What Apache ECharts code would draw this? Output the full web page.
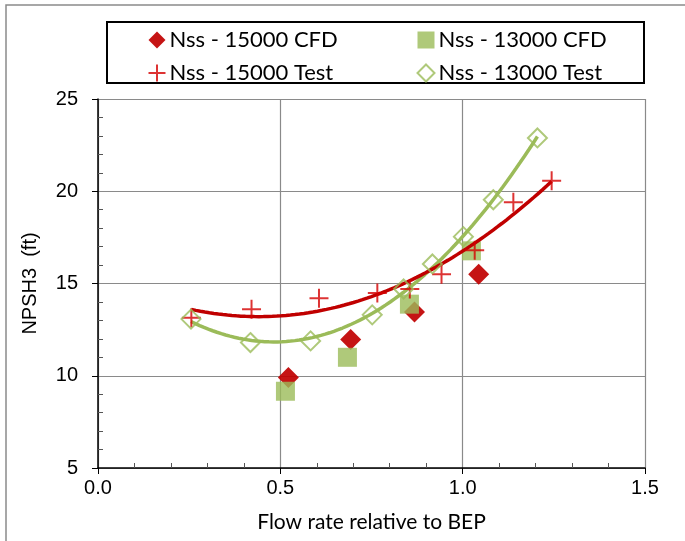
<!DOCTYPE html>
<html><head><meta charset="utf-8">
<script src="https://cdn.jsdelivr.net/npm/echarts@6/dist/echarts.min.js"></script>
<style>html,body{margin:0;padding:0;background:#fff}#c{width:685px;height:541px}</style>
</head><body><div id="c"></div>
<script>
// ---- data ----
const seriesNames = ['Nss - 15000 CFD', 'Nss - 13000 CFD', 'Nss - 15000 Test', 'Nss - 13000 Test'];
const cfd15X = [0.522, 0.693, 0.868, 1.044];
const cfd15Y = [9.9, 11.97, 13.45, 15.5];
const cfd13X = [0.514, 0.684, 0.854, 1.024];
const cfd13Y = [9.16, 11.0, 13.88, 16.77];
const test15X = [0.256, 0.421, 0.606, 0.766, 0.855, 0.942, 1.033, 1.139, 1.244];
const test15Y = [13.15, 13.6, 14.2, 14.48, 14.7, 15.5, 16.8, 19.4, 20.57];
const test13X = [0.255, 0.418, 0.583, 0.752, 0.838, 0.917, 1.002, 1.084, 1.205];
const test13Y = [13.07, 11.8, 11.89, 13.3, 14.7, 16.06, 17.54, 19.54, 22.89];
const xTickLabels = ['0.0', '0.5', '1.0', '1.5'];
const yTickLabels = ['5', '10', '15', '20', '25'];
const xTitle = 'Flow rate relative to BEP';
const yTitle = 'NPSH3  (ft)';

// polynomial least-squares trendline (as Excel's polynomial trendline)
function polyfit(xs, ys, order) {
  const n = order + 1;
  const A = Array.from({length: n}, () => new Array(n + 1).fill(0));
  for (let k = 0; k < xs.length; k++) {
    for (let i = 0; i < n; i++) {
      for (let j = 0; j < n; j++) A[i][j] += Math.pow(xs[k], i + j);
      A[i][n] += ys[k] * Math.pow(xs[k], i);
    }
  }
  for (let i = 0; i < n; i++) {
    let p = i;
    for (let r = i + 1; r < n; r++) if (Math.abs(A[r][i]) > Math.abs(A[p][i])) p = r;
    [A[i], A[p]] = [A[p], A[i]];
    for (let r = 0; r < n; r++) {
      if (r === i) continue;
      const f = A[r][i] / A[i][i];
      for (let c = i; c <= n; c++) A[r][c] -= f * A[i][c];
    }
  }
  return A.map((row, i) => row[n] / row[i]);
}
function trend(xs, ys, order) {
  const c = polyfit(xs, ys, order);
  const x0 = Math.min(...xs), x1 = Math.max(...xs);
  const out = [];
  for (let i = 0; i <= 80; i++) {
    const x = x0 + (x1 - x0) * i / 80;
    let y = 0;
    for (let k = 0; k < c.length; k++) y += c[k] * Math.pow(x, k);
    out.push([x, y]);
  }
  return out;
}
const zip = (a, b) => a.map((v, i) => [v, b[i]]);

const RED = '#C00000', PLUS_RED = '#D40000', GREEN = '#9BBB59';
const plusPath = 'path://M0,10L20,10M10,0L10,20';

const chart = echarts.init(document.getElementById('c'), null, {renderer: 'canvas'});
chart.setOption({
  animation: false,
  backgroundColor: '#fff',
  grid: {left: 98, right: 40, top: 99, bottom: 73, containLabel: false},
  graphic: [
    {type: 'rect', shape: {x: 6, y: 5, width: 690, height: 550}, style: {fill: 'none', stroke: '#8a8a8a', lineWidth: 1.5}, silent: true},
    {type: 'rect', shape: {x: 107, y: 22, width: 537, height: 61}, style: {fill: '#fff', stroke: '#000', lineWidth: 2}, silent: true, z: 0}
  ],
  legend: [
    {data: [seriesNames[0], seriesNames[2]], orient: 'vertical', left: 141, top: 24, itemWidth: 17, itemHeight: 17, itemGap: 11,
     textStyle: {fontFamily: 'Lato', fontSize: 22, color: '#000', padding: [0, 0, 0, -1]}, z: 5},
    {data: [seriesNames[1], seriesNames[3]], orient: 'vertical', left: 410, top: 24, itemWidth: 17, itemHeight: 17, itemGap: 11,
     textStyle: {fontFamily: 'Lato', fontSize: 22, color: '#000', padding: [0, 0, 0, -1]}, z: 5}
  ],
  xAxis: {
    type: 'value', min: 0, max: 1.5, interval: 0.5,
    name: xTitle, nameLocation: 'middle', nameGap: 44,
    nameTextStyle: {fontFamily: 'Lato', fontSize: 21, color: '#000'},
    axisLine: {show: true, lineStyle: {color: '#000', width: 1.5}},
    axisTick: {show: true, inside: false, length: 6, lineStyle: {color: '#000'}},
    minorTick: {show: true, splitNumber: 5, length: -5, lineStyle: {color: '#555'}},
    axisLabel: {fontFamily: 'Liberation Sans', fontSize: 20, color: '#000', margin: 10,
      formatter: v => xTickLabels[Math.round(v / 0.5)] ?? ''},
    splitLine: {show: true, lineStyle: {color: '#8a8a8a', width: 1.2}}
  },
  yAxis: {
    type: 'value', min: 5, max: 25, interval: 5,
    name: yTitle, nameLocation: 'middle', nameGap: 58, nameRotate: 90,
    nameTextStyle: {fontFamily: 'Liberation Sans', fontSize: 20, color: '#000'},
    axisLine: {show: true, lineStyle: {color: '#000', width: 1.5}},
    axisTick: {show: true, inside: false, length: 6, lineStyle: {color: '#000'}},
    minorTick: {show: true, splitNumber: 5, length: -5, lineStyle: {color: '#555'}},
    axisLabel: {fontFamily: 'Liberation Sans', fontSize: 20, color: '#000', margin: 20,
      formatter: v => yTickLabels[Math.round((v - 5) / 5)] ?? ''},
    splitLine: {show: true, lineStyle: {color: '#8a8a8a', width: 1.2}}
  },
  series: [
    {name: seriesNames[0], type: 'scatter', data: zip(cfd15X, cfd15Y), symbol: 'diamond', symbolSize: 21,
     itemStyle: {color: RED, opacity: 0.92}, z: 2},
    {name: seriesNames[1], type: 'scatter', data: zip(cfd13X, cfd13Y), symbol: 'rect', symbolSize: 19,
     itemStyle: {color: GREEN}, z: 3},
    {name: 'trend13', type: 'line', data: trend(test13X, test13Y, 2), showSymbol: false, symbol: 'none', smooth: false,
     lineStyle: {color: GREEN, width: 3.5}, z: 4, silent: true},
    {name: 'trend15', type: 'line', data: trend(test15X, test15Y, 2), showSymbol: false, symbol: 'none', smooth: false,
     lineStyle: {color: RED, width: 3.5}, z: 5, silent: true},
    {name: seriesNames[2], type: 'scatter', data: zip(test15X, test15Y), symbol: plusPath, symbolSize: 19,
     itemStyle: {color: 'none', borderColor: PLUS_RED, borderWidth: 2}, z: 6},
    {name: seriesNames[3], type: 'scatter', data: zip(test13X, test13Y), symbol: 'diamond', symbolSize: 19,
     itemStyle: {color: 'none', borderColor: GREEN, borderWidth: 2}, z: 7}
  ]
});
</script></body></html>
